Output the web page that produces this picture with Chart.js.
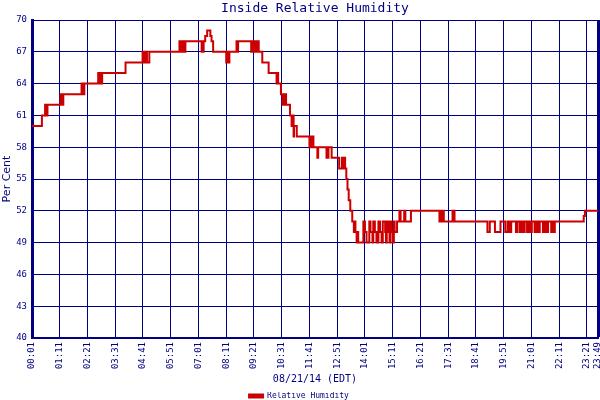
<!DOCTYPE html>
<html>
<head>
<meta charset="utf-8">
<title>Inside Relative Humidity</title>
<script src="https://cdn.jsdelivr.net/npm/chart.js@4/dist/chart.umd.min.js"></script>
<style>
  html, body { margin: 0; padding: 0; background: #ffffff; }
  #wrap { width: 600px; height: 400px; }
</style>
</head>
<body>
<div id="wrap"><canvas id="rhChart" width="600" height="400"></canvas></div>
<script>
// readings: minute of day where the value changes, and the new value
const changeMinutes = [
  1, 26, 34, 37, 40, 73, 75, 77, 78, 80,
  126, 128, 130, 131, 133, 168, 171, 173, 175, 178,
  237, 280, 283, 288, 291, 297, 373, 376, 378, 383, 388,
  429, 434, 438, 443, 451, 454, 458, 491, 493, 495, 499,
  517, 519, 521, 554, 556, 560, 562, 566, 569, 573, 582, 598,
  618, 620, 622, 629, 633, 635, 638, 640, 642, 652, 656, 657, 659, 660, 661, 662, 669,
  701, 703, 706, 708, 711, 721, 723, 744, 746, 747, 749, 757,
  776, 783, 785, 787, 791, 794, 797, 800, 804, 809, 813, 815, 817, 820, 822, 824,
  837, 841, 845, 852, 855, 860, 862, 866, 870, 875, 879, 883, 886, 892, 894,
  896, 900, 903, 905, 908, 911, 914, 916, 922, 928, 931, 940, 943, 957,
  1029, 1033, 1035, 1037, 1040, 1062, 1067,
  1150, 1156, 1169, 1183, 1195, 1201, 1206, 1210, 1222, 1226, 1232, 1236,
  1240, 1244, 1250, 1254, 1257, 1262, 1269, 1274, 1278, 1282, 1290, 1295,
  1299, 1303, 1311, 1315, 1317, 1320, 1393, 1396, 1429
];
const humidity = [
  60, 61, 62, 61, 62, 63, 62, 63, 62, 63,
  64, 63, 64, 63, 64, 65, 64, 65, 64, 65,
  66, 67, 66, 67, 66, 67, 68, 67, 68, 67, 68,
  67, 68, 68.5, 69, 68.5, 68, 67, 66, 67, 66, 67,
  68, 67, 68, 67, 68, 67, 68, 67, 68, 67, 66, 65,
  64, 65, 64, 63, 62, 63, 62, 63, 62, 61, 60, 61, 60, 61, 59, 60, 59,
  58, 59, 58, 59, 58, 57, 58, 57, 58, 57, 58, 57,
  56, 57, 56, 57, 56, 55, 54, 53, 52, 51, 50, 51, 50, 49, 50, 49,
  51, 50, 49, 51, 50, 49, 51, 50, 49, 51, 50, 49, 51, 50, 49,
  51, 50, 49, 51, 50, 49, 51, 50, 51, 52, 51, 52, 51, 52,
  51, 52, 51, 52, 51, 52, 51,
  50, 51, 50, 51, 50, 51, 50, 51, 50, 51, 50, 51,
  50, 51, 50, 51, 50, 51, 50, 51, 50, 51, 50, 51,
  50, 51, 50, 51, 50, 51, 51.5, 52, 52
];
const tickLabels = [
  '00:01', '01:11', '02:21', '03:31', '04:41', '05:51', '07:01', '08:11',
  '09:21', '10:31', '11:41', '12:51', '14:01', '15:11', '16:21', '17:31',
  '18:41', '19:51', '21:01', '22:11', '23:21', '23:49'
];
const chartTitle = 'Inside Relative Humidity';
const xTitle = '08/21/14 (EDT)';
const yTitle = 'Per Cent';
const seriesName = 'Relative Humidity';

const navy = '#000080';
const red = '#cc0000';

function toMinutes(label) {
  const parts = label.split(':');
  return parseInt(parts[0], 10) * 60 + parseInt(parts[1], 10);
}
function toLabel(mins) {
  const h = Math.floor(mins / 60), m = mins % 60;
  return String(h).padStart(2, '0') + ':' + String(m).padStart(2, '0');
}

const tickMinutes = tickLabels.map(toMinutes);
const lastTick = tickMinutes[tickMinutes.length - 1];

const points = changeMinutes.map(function(t, i) {
  return { x: t, y: humidity[i] };
});

// title centred over the plot area, like the original
const plotTitle = {
  id: 'plotTitle',
  afterDraw(chart) {
    const ctx = chart.ctx;
    const area = chart.chartArea;
    ctx.save();
    ctx.font = '13px "DejaVu Sans Mono"';
    ctx.fillStyle = navy;
    ctx.textAlign = 'center';
    ctx.textBaseline = 'middle';
    ctx.fillText(chartTitle, (area.left + area.right) / 2, 9);
    ctx.restore();
  }
};

const ctx = document.getElementById('rhChart').getContext('2d');
const chart = new Chart(ctx, {
  type: 'line',
  data: {
    datasets: [{
      label: seriesName,
      data: points,
      stepped: true,
      borderColor: red,
      backgroundColor: red,
      borderWidth: 2,
      pointRadius: 0,
      fill: false
    }]
  },
  options: {
    responsive: false,
    animation: false,
    // negative bottom padding lets the legend sit close to the bottom edge
    layout: { padding: { top: 20, right: 2, left: 0, bottom: -10 } },
    plugins: {
      title: { display: false },
      tooltip: { enabled: false },
      legend: {
        position: 'bottom',
        labels: {
          color: navy,
          font: { family: 'DejaVu Sans Mono', size: 8 },
          boxWidth: 14,
          boxHeight: 3,
          padding: 0
        }
      }
    },
    scales: {
      x: {
        type: 'linear',
        min: tickMinutes[0],
        max: lastTick,
        afterBuildTicks: function(scale) {
          scale.ticks = tickMinutes.map(function(v) { return { value: v }; });
        },
        afterFit: function(scale) {
          scale.height = 54;
          scale.paddingLeft = 0;
          scale.paddingRight = 0;
        },
        ticks: {
          autoSkip: false,
          minRotation: 90,
          maxRotation: 90,
          padding: 4,
          color: navy,
          font: { family: 'DejaVu Sans Mono', size: 9 },
          callback: function(value) { return toLabel(value); }
        },
        grid: {
          color: navy,
          lineWidth: function(c) { return c.tick && c.tick.value === lastTick ? 3 : 1; },
          drawTicks: false
        },
        border: { color: navy, width: 2 },
        title: {
          display: true,
          text: xTitle,
          color: navy,
          font: { family: 'DejaVu Sans Mono', size: 10 },
          padding: { top: 2, bottom: 7 }
        }
      },
      y: {
        min: 40,
        max: 70,
        afterFit: function(scale) {
          scale.width = 32;
          scale.paddingTop = 0;
          scale.paddingBottom = 0;
        },
        ticks: {
          stepSize: 3,
          padding: 5,
          color: navy,
          font: { family: 'DejaVu Sans Mono', size: 9 }
        },
        grid: { color: navy, lineWidth: 1, drawTicks: false },
        border: { color: navy, width: 3 },
        title: {
          display: true,
          text: yTitle,
          color: navy,
          font: { family: 'DejaVu Sans', size: 11 },
          padding: { top: 1, bottom: 1 }
        }
      }
    }
  },
  plugins: [plotTitle]
});
</script>
</body>
</html>
